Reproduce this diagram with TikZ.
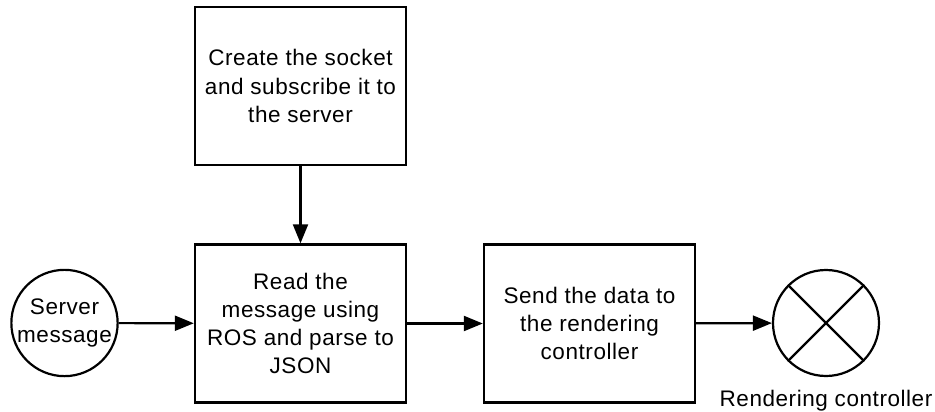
\documentclass[tikz,border=0pt]{standalone}
\usepackage{fontspec}
\setmainfont{Liberation Sans}[LetterSpace=2.5]
\usetikzlibrary{arrows.meta}
\begin{document}
\begin{tikzpicture}[x=1pt,y=-1pt,
  lbl/.style={font=\fontsize{22.5}{28.3}\selectfont, align=center},
  procbox/.style={draw, line width=2.4pt, minimum width=211pt, minimum height=158pt, inner sep=0pt, lbl},
  endcircle/.style={draw, circle, line width=2.2pt, minimum size=106pt, inner sep=0pt, lbl},
  conn/.style={line width=2.2pt, -{Triangle[length=19pt,width=15pt]}}]
\useasboundingbox (0,0) rectangle (935,412);
\node[procbox] (sock) at (300.5,86) {Create the socket\\and subscribe it to\\the server};
\node[procbox] (read) at (300.5,323.5) {Read the\\message using\\ROS and parse to\\JSON};
\node[procbox] (send) at (589.5,323.5) {Send the data to\\the rendering\\controller};
\node[endcircle] (srv) at (64.5,323) {Server\\message};
\node[endcircle] (rend) at (826,323) {};
\draw[line width=2.2pt] (rend.45) -- (rend.225) (rend.135) -- (rend.315);
\node[lbl, anchor=base] (rendlbl) at (826,406) {Rendering controller};
\draw[conn] (sock) -- (read);
\draw[conn] (srv) -- (read);
\draw[conn] (read) -- (send);
\draw[conn] (send) -- (rend);
\end{tikzpicture}
\end{document}
